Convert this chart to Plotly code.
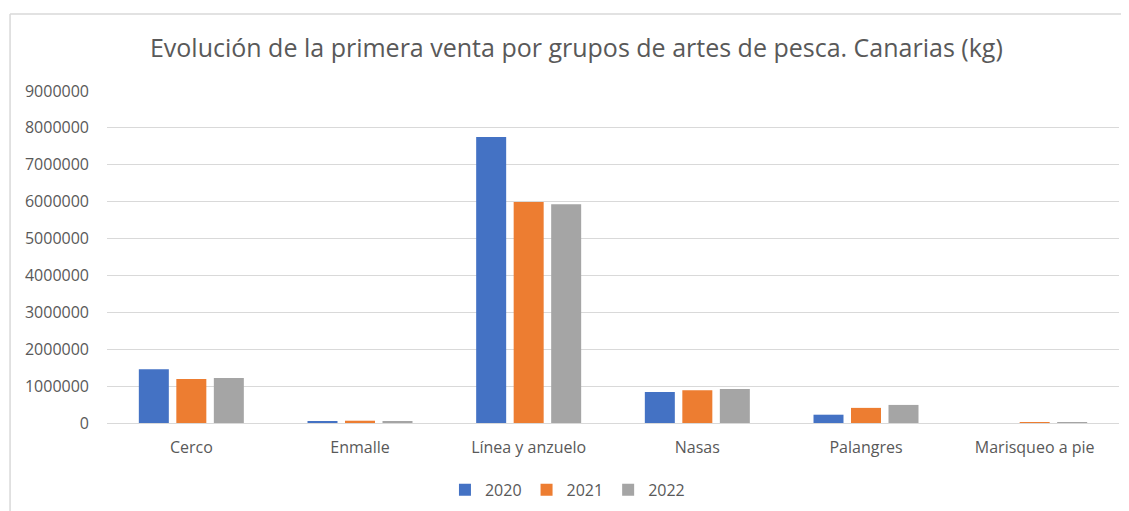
import plotly.graph_objects as go

categorias = ["Cerco", "Enmalle", "Línea y anzuelo", "Nasas", "Palangres", "Marisqueo a pie"]
kg_2020 = [1460000, 55000, 7750000, 840000, 225000, 0]
kg_2021 = [1190000, 62000, 5990000, 890000, 410000, 25000]
kg_2022 = [1220000, 45000, 5930000, 920000, 490000, 20000]
y_ticks = [0, 1000000, 2000000, 3000000, 4000000, 5000000, 6000000, 7000000, 8000000, 9000000]

series = [
    ("2020", kg_2020, "#4472c4"),
    ("2021", kg_2021, "#ed7d31"),
    ("2022", kg_2022, "#a5a5a5"),
]

fig = go.Figure()
for name, vals, color in series:
    fig.add_trace(go.Bar(x=categorias, y=vals, name=name, marker=dict(color=color, line=dict(width=0))))

text_color = "#595959"
# the page body adds an 8px margin, so the figure is 8px smaller than the window
fig.update_layout(
    width=1121,
    height=503,
    paper_bgcolor="white",
    plot_bgcolor="white",
    font=dict(family="Open Sans, Noto Sans, sans-serif", color=text_color, size=16),
    margin=dict(l=99, r=10, t=83, b=88, autoexpand=False),
    barmode="group",
    bargap=0.333,
    bargroupgap=0.2,
    title=dict(
        text="Evolución de la primera venta por grupos de artes de pesca. Canarias (kg)",
        x=0.507, xanchor="center", y=0.92, yanchor="middle",
        font=dict(size=25, color=text_color),
    ),
    xaxis=dict(showgrid=False, ticks="", showline=False, ticklabelstandoff=13,
               tickfont=dict(size=16, color=text_color)),
    yaxis=dict(
        range=[0, 9000000], tickvals=y_ticks, ticktext=[str(v) for v in y_ticks],
        showgrid=True, gridcolor="#d9d9d9", gridwidth=1,
        zeroline=True, zerolinecolor="#d9d9d9", zerolinewidth=1,
        tickfont=dict(size=16, color=text_color), ticklabelstandoff=17,
    ),
    legend=dict(orientation="h", x=0.455, xanchor="center", y=0.042, yanchor="middle",
                yref="container", font=dict(size=16, color=text_color), traceorder="normal",
                itemwidth=30, tracegroupgap=0),
    shapes=[
        dict(type="line", xref="paper", yref="paper", x0=-0.0958, x1=1.02, y0=1.232, y1=1.232,
             line=dict(color="#d9d9d9", width=1.5)),
        dict(type="line", xref="paper", yref="paper", x0=-0.0958, x1=-0.0958, y0=1.232, y1=-0.3,
             line=dict(color="#d9d9d9", width=1.5)),
    ],
)

fig.write_html("out.html")
